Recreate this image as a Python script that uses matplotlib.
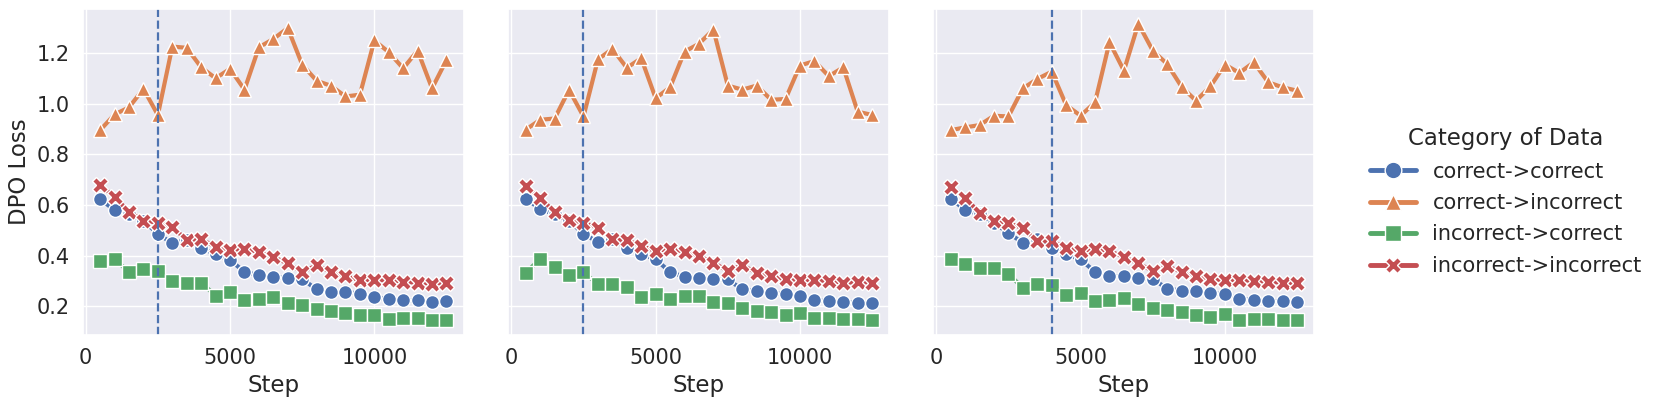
import matplotlib
matplotlib.use("Agg")
import matplotlib.pyplot as plt
from matplotlib.lines import Line2D
import numpy as np
import seaborn as sns

sns.set_theme(style="darkgrid")
plt.rcParams['font.family'] = ['DejaVu Sans']

steps = np.arange(500, 12501, 500)
categories = ["correct->correct", "correct->incorrect", "incorrect->correct", "incorrect->incorrect"]
vlines = [2500, 2500, 4000]

# panel 1
p1_cc = [0.622, 0.580, 0.563, 0.537, 0.486, 0.448, 0.462, 0.431, 0.405, 0.382, 0.336, 0.322, 0.315,
         0.312, 0.308, 0.266, 0.257, 0.256, 0.250, 0.237, 0.227, 0.223, 0.223, 0.218, 0.220]
p1_ci = [0.895, 0.957, 0.985, 1.058, 0.955, 1.225, 1.220, 1.143, 1.100, 1.137, 1.055, 1.222, 1.255,
         1.298, 1.154, 1.090, 1.070, 1.028, 1.035, 1.249, 1.203, 1.139, 1.209, 1.060, 1.172]
p1_ic = [0.378, 0.385, 0.336, 0.345, 0.339, 0.298, 0.293, 0.293, 0.242, 0.258, 0.224, 0.230, 0.236,
         0.213, 0.203, 0.190, 0.183, 0.174, 0.167, 0.167, 0.150, 0.154, 0.154, 0.147, 0.145]
p1_ii = [0.678, 0.632, 0.572, 0.538, 0.530, 0.513, 0.461, 0.464, 0.435, 0.420, 0.427, 0.414, 0.394,
         0.369, 0.335, 0.361, 0.335, 0.319, 0.303, 0.303, 0.302, 0.297, 0.292, 0.289, 0.292]

# panel 2
p2_cc = [0.625, 0.583, 0.563, 0.537, 0.486, 0.453, 0.464, 0.431, 0.405, 0.385, 0.335, 0.316, 0.312,
         0.306, 0.306, 0.266, 0.260, 0.253, 0.247, 0.240, 0.224, 0.220, 0.217, 0.213, 0.212]
p2_ci = [0.897, 0.936, 0.941, 1.054, 0.949, 1.174, 1.216, 1.141, 1.179, 1.021, 1.064, 1.205, 1.236,
         1.292, 1.071, 1.055, 1.071, 1.015, 1.018, 1.150, 1.168, 1.108, 1.143, 0.968, 0.955]
p2_ic = [0.332, 0.387, 0.354, 0.324, 0.335, 0.286, 0.289, 0.277, 0.236, 0.247, 0.229, 0.240, 0.242,
         0.217, 0.213, 0.194, 0.180, 0.178, 0.165, 0.174, 0.154, 0.154, 0.150, 0.150, 0.145]
p2_ii = [0.675, 0.629, 0.570, 0.539, 0.530, 0.510, 0.464, 0.461, 0.438, 0.418, 0.427, 0.415, 0.398,
         0.372, 0.339, 0.362, 0.332, 0.319, 0.306, 0.302, 0.303, 0.299, 0.292, 0.295, 0.293]

# panel 3
p3_cc = [0.625, 0.580, 0.563, 0.530, 0.488, 0.451, 0.464, 0.431, 0.405, 0.385, 0.335, 0.319, 0.319,
         0.310, 0.308, 0.269, 0.262, 0.260, 0.253, 0.247, 0.229, 0.225, 0.222, 0.219, 0.216]
p3_ci = [0.895, 0.906, 0.915, 0.952, 0.949, 1.060, 1.097, 1.126, 0.994, 0.952, 1.005, 1.242, 1.130,
         1.315, 1.209, 1.156, 1.066, 1.011, 1.068, 1.154, 1.121, 1.163, 1.084, 1.064, 1.051]
p3_ic = [0.385, 0.368, 0.349, 0.349, 0.329, 0.271, 0.289, 0.283, 0.244, 0.253, 0.220, 0.223, 0.233,
         0.207, 0.191, 0.184, 0.178, 0.167, 0.158, 0.170, 0.147, 0.148, 0.150, 0.146, 0.145]
p3_ii = [0.672, 0.629, 0.567, 0.537, 0.527, 0.509, 0.456, 0.456, 0.431, 0.418, 0.424, 0.418, 0.394,
         0.369, 0.339, 0.358, 0.335, 0.319, 0.306, 0.303, 0.303, 0.300, 0.296, 0.293, 0.290]

panels = [[p1_cc, p1_ci, p1_ic, p1_ii],
          [p2_cc, p2_ci, p2_ic, p2_ii],
          [p3_cc, p3_ci, p3_ic, p3_ii]]

colors = sns.color_palette("deep")[:4]
markers = ['o', '^', 's', 'X']
msizes = [10, 10, 10, 11]

fig = plt.figure(figsize=(16.6, 4.07), dpi=100)
lefts = [0.0499, 0.3063, 0.5623]
axes = []
for i, left in enumerate(lefts):
    if i == 0:
        ax = fig.add_axes([left, 0.177, 0.2295, 0.801])
    else:
        ax = fig.add_axes([left, 0.177, 0.2295, 0.801], sharey=axes[0])
    axes.append(ax)
    for vals, c, m, s, lab in zip(panels[i], colors, markers, msizes, categories):
        ax.plot(steps, vals, color=c, marker=m, lw=3, ms=s, mec='white', mew=1, label=lab)
    ax.axvline(vlines[i], color=colors[0], ls='--', lw=1.6)
    ax.set_xticks([0, 5000, 10000])
    ax.tick_params(labelsize=15)
    ax.set_xlabel("Step", fontsize=16.5)
    if i > 0:
        ax.tick_params(labelleft=False)

axes[0].set_ylabel("DPO Loss", fontsize=16.5)
axes[0].set_yticks([0.2, 0.4, 0.6, 0.8, 1.0, 1.2])

# legend handles: solid line with a larger marker
handles = [Line2D([], [], color=c, marker=m, lw=3.5, ms=12, mec='white', mew=1)
           for c, m in zip(colors, markers)]
leg = fig.legend(handles, categories, title="Category of Data", loc='center left',
                 bbox_to_anchor=(0.814, 0.505), frameon=False, fontsize=15,
                 title_fontsize=16.5, handlelength=2.2, labelspacing=0.55)

plt.savefig('out.png', dpi=100)
